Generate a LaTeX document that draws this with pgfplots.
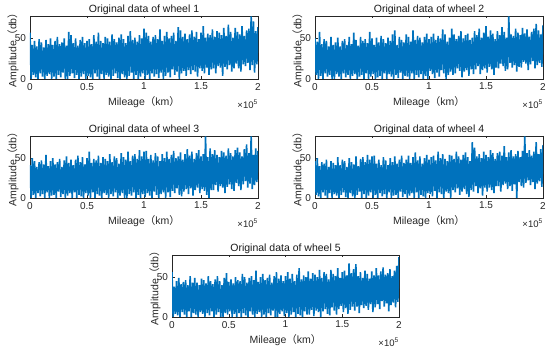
\documentclass[border=0pt]{standalone}
\usepackage{fontspec}
\setmainfont{Liberation Sans}
\newfontfamily\cjk{Noto Sans CJK SC}
\usepackage{pgfplots}
\usepackage{pgfplotstable}
\pgfplotsset{compat=1.18}
\definecolor{mblue}{RGB}{0,114,189}
\definecolor{mgray}{RGB}{38,38,38}

\pgfplotstableread{
a b c d e
57 50 41 46 56
0 5 0 4 0
42 46 50 50 38
5 0 4 2 4
47 58 46 40 45
2 4 0 0 2
40 43 39 45 49
0 0 6 7 0
49 49 45 43 41
7 7 2 3 6
45 47 47 48 44
3 3 5 0 3
39 40 42 39 46
0 5 0 6 0
48 52 54 46 40
4 0 7 0 7
43 42 40 44 51
6 0 0 5 0
50 45 46 41 43
0 6 3 3 5
42 51 50 51 49
3 3 4 0 3
47 40 42 41 43
0 0 0 4 0
52 47 45 48 40
5 7 8 7 6
43 49 49 46 48
2 2 1 1 4
45 42 39 39 46
8 5 5 0 0
50 52 47 50 42
0 0 0 6 5
41 43 52 45 51
0 4 3 2 2
58 57 44 42 45
4 6 6 0 7
54 48 48 52 41
7 0 0 4 0
44 41 41 40 47
1 3 7 8 3
50 52 48 49 51
5 5 0 0 6
41 47 53 51 45
0 0 4 5 0
48 49 45 45 40
3 7 2 0 0
52 44 51 54 49
6 0 0 3 5
44 58 42 48 55
0 3 6 7 3
47 50 50 52 44
4 6 3 0 7
49 42 58 53 47
2 0 0 4 0
43 51 44 43 42
0 2 7 0 4
54 45 49 48 50
7 4 0 6 0
46 53 47 41 46
3 0 5 2 5
57 49 53 51 45
0 7 3 5 0
47 44 44 47 54
6 0 0 0 5
44 51 51 41 50
0 6 6 7 2
52 47 49 50 43
5 3 4 0 0
50 55 46 45 49
3 0 0 3 7
46 60 55 52 51
0 5 5 4 3
55 42 45 43 46
4 1 2 0 0
49 52 52 48 58
7 8 7 8 4
45 48 50 53 44
1 0 0 1 6
51 45 43 44 50
0 4 3 5 0
55 55 56 48 54
6 3 6 0 3
49 52 51 53 46
2 0 0 3 0
44 46 48 44 49
0 7 0 6 5
53 60 58 51 53
4 0 5 0 2
59 48 46 57 43
8 5 3 7 8
48 53 53 47 51
0 2 7 0 0
51 51 55 52 56
5 6 0 4 0
46 45 49 43 48
0 0 4 2 4
54 52 60 50 52
3 4 0 0 7
50 56 52 54 45
7 0 5 6 1
62 49 58 48 51
0 10 1 5 5
57 52 59 51 56
5 6 6 2 0
53 56 49 53 48
0 1 3 9 3
46 48 54 47 54
7 8 0 0 6
52 53 47 58 45
3 3 8 7 0
54 50 56 50 53
6 11 4 5 4
49 61 52 55 61
1 7 0 0 2
61 55 46 49 47
8 0 5 8 0
47 46 55 46 52
0 5 7 6 7
53 51 50 54 50
4 9 0 0 3
58 62 58 53 57
8 5 7 10 3
50 55 49 49 48
2 7 1 7 9
53 49 54 58 55
12 13 9 12 1
57 53 59 52 53
5 10 6 4 8
47 59 50 48 50
9 2 12 8 6
64 50 52 54 59
0 9 4 11 0
60 54 57 57 49
7 11 2 5 7
52 56 48 51 56
10 4 8 1 10
56 48 55 46 54
4 12 11 10 4
49 51 61 70 47
11 6 5 8 2
55 59 53 63 59
6 12 12 15 12
60 54 58 52 54
11 16 3 6 8
52 62 49 55 51
9 6 10 12 3
58 51 56 50 61
3 11 13 3 10
49 57 60 58 49
13 13 6 13 14
57 65 52 54 56
10 8 11 8 6
65 52 55 51 58
7 15 9 13 11
51 60 77 60 52
14 12 4 10 4
56 56 51 56 67
5 5 0 6 9
54 49 62 49 55
12 14 10 15 13
61 59 55 56 60
13 13 10 15 8
52 54 60 58 66
7 19 16 8 13
59 64 54 53 51
16 16 8 16 5
57 58 51 65 56
14 10 15 18 15
54 51 59 51 49
4 12 13 11 11
63 77 57 57 58
15 20 6 15 14
53 55 53 60 54
12 14 14 9 9
67 53 62 52 48
17 17 17 17 16
58 62 56 55 57
9 9 11 0 6
51 57 52 59 52
13 15 9 20 12
63 54 60 51 61
19 14 19 15 16
58 63 63 59 52
13 21 15 13 10
55 56 57 77 57
9 19 10 19 20
65 61 52 56 62
18 11 17 22 13
53 52 61 60 53
16 18 21 16 17
60 58 67 53 55
20 22 13 20 7
62 62 56 58 60
11 13 18 11 15
77 68 77 70 51
17 17 11 18 18
71 60 54 55 58
8 20 16 21 12
59 55 62 61 64
18 15 20 14 19
64 66 59 66 75
}\wheeldata

\pgfplotsset{
  wheel/.style={
    scale only axis,
    width=228pt, height=63pt,
    xmin=0, xmax=2, ymin=0, ymax=77.6,
    xtick={0,0.5,1,1.5,2},
    xticklabels={0,0.5,1,1.5,2},
    ytick={0,50},
    tick align=inside,
    major tick length=2.5pt,
    axis line style={mgray, line width=0.5pt},
    every tick/.style={mgray, line width=0.5pt},
    tick label style={font=\fontsize{10}{12}\selectfont, text=mgray},
    /pgf/number format/assume math mode=true,
    xticklabel style={yshift=-0.5pt},
    yticklabel style={xshift=-0.5pt},
    every axis title/.style={at={(rel axis cs:0.5,1)}, anchor=base, yshift=3.5pt,
      font=\fontsize{10.5}{12}\selectfont, text=black!90},
    xlabel={Mileage{\cjk （}km{\cjk ）}},
    ylabel={Amplitude{\cjk （}db{\cjk ）}},
    every axis x label/.style={at={(rel axis cs:0.5,-0.365)}, anchor=center,
      font=\fontsize{10.5}{12}\selectfont, text=mgray},
    every axis y label/.style={at={(rel axis cs:-0.075,0.5)}, anchor=center, rotate=90,
      font=\fontsize{10.5}{12}\selectfont, text=mgray},
    after end axis/.code={
      \node[anchor=base east, inner sep=0pt, text=mgray, font=\fontsize{9.5}{11}\selectfont]
        at (rel axis cs:1,0) [yshift=-29.5pt] {×10\textsuperscript{5}};
    },
  },
  sig/.style={mblue, no markers, line width=1.6pt, line join=bevel},
}

\begin{document}
\begin{tikzpicture}
\path[use as bounding box] (0pt,0pt) rectangle (550pt,-352pt);

\begin{axis}[wheel, at={(30pt,-79pt)}, anchor=south west, title={Original data of wheel 1}]
\addplot[sig] table[x expr=\coordindex/100, y=a] {\wheeldata};
\end{axis}

\begin{axis}[wheel, at={(315pt,-79pt)}, anchor=south west, title={Original data of wheel 2}]
\addplot[sig] table[x expr=\coordindex/100, y=b] {\wheeldata};
\end{axis}

\begin{axis}[wheel, at={(30pt,-198pt)}, anchor=south west, height=62pt, title={Original data of wheel 3}]
\addplot[sig] table[x expr=\coordindex/100, y=c] {\wheeldata};
\end{axis}

\begin{axis}[wheel, at={(315pt,-198pt)}, anchor=south west, height=62pt, title={Original data of wheel 4}]
\addplot[sig] table[x expr=\coordindex/100, y=d] {\wheeldata};
\end{axis}

\begin{axis}[wheel, at={(172pt,-317pt)}, anchor=south west, width=227pt, height=62pt, title={Original data of wheel 5}]
\addplot[sig] table[x expr=\coordindex/100, y=e] {\wheeldata};
\end{axis}
\end{tikzpicture}
\end{document}
